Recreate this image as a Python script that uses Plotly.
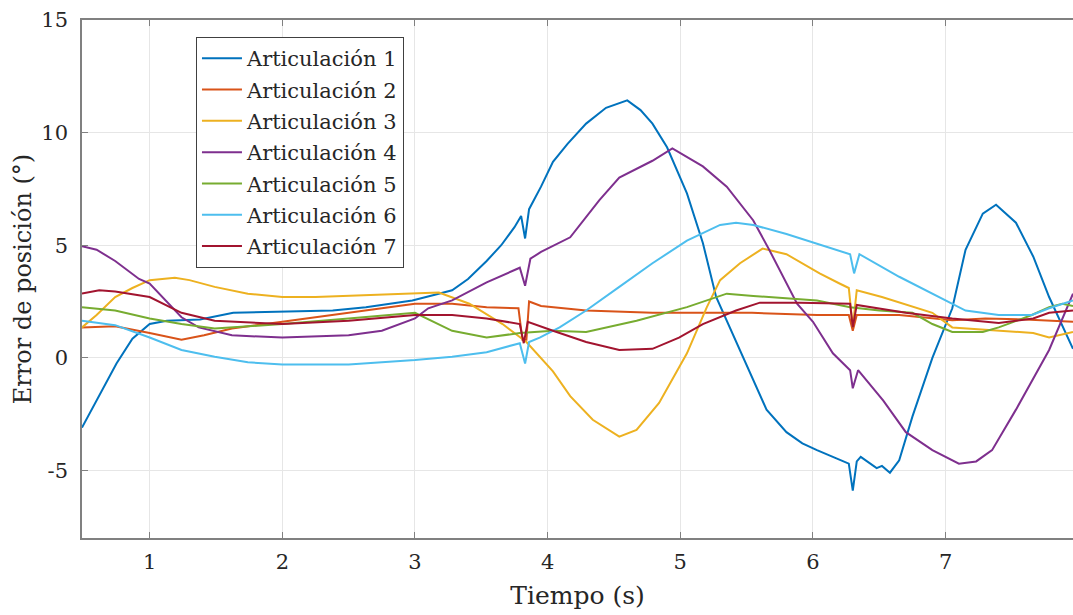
import plotly.graph_objects as go

names = ["Articulación 1", "Articulación 2", "Articulación 3", "Articulación 4",
         "Articulación 5", "Articulación 6", "Articulación 7"]
colors = ["#0072BD", "#D95319", "#EDB120", "#7E2F8E", "#77AC30", "#4DBEEE", "#A2142F"]

t1 = [0.49, 0.62, 0.75, 0.87, 1.0, 1.13, 1.38, 1.63, 2.0, 2.38, 2.63, 2.98, 3.15, 3.28, 3.4, 3.54, 3.65, 3.75, 3.8, 3.83, 3.86, 3.95, 4.04, 4.15, 4.29, 4.44, 4.6, 4.7, 4.79, 4.9, 5.05, 5.17, 5.27, 5.45, 5.65, 5.8, 5.92, 6.03, 6.2, 6.27, 6.3, 6.33, 6.36, 6.48, 6.52, 6.58, 6.65, 6.75, 6.9, 7.05, 7.15, 7.28, 7.38, 7.53, 7.66, 7.78, 7.96]
y1 = [-3.1, -1.65, -0.25, 0.85, 1.5, 1.65, 1.7, 2.0, 2.05, 2.1, 2.25, 2.55, 2.8, 3.0, 3.5, 4.3, 5.0, 5.8, 6.3, 5.3, 6.6, 7.6, 8.7, 9.5, 10.4, 11.1, 11.43, 11.0, 10.4, 9.35, 7.3, 5.1, 2.7, 0.35, -2.3, -3.3, -3.8, -4.1, -4.5, -4.7, -5.9, -4.6, -4.4, -4.9, -4.8, -5.1, -4.55, -2.6, 0.0, 2.2, 4.8, 6.4, 6.8, 6.0, 4.5, 2.7, 0.4]

t2 = [0.49, 0.74, 1.0, 1.24, 1.41, 1.62, 2.0, 2.5, 3.0, 3.28, 3.54, 3.78, 3.81, 3.84, 3.86, 3.95, 4.29, 4.79, 5.2, 5.54, 6.03, 6.27, 6.3, 6.33, 6.65, 7.05, 7.3, 7.6, 7.96]
y2 = [1.35, 1.4, 1.1, 0.8, 1.0, 1.3, 1.6, 2.0, 2.4, 2.4, 2.25, 2.2, 0.8, 0.8, 2.5, 2.3, 2.1, 2.0, 2.0, 2.0, 1.9, 1.9, 1.2, 1.9, 1.9, 1.67, 1.75, 1.7, 1.6]

t3 = [0.49, 0.6, 0.74, 0.87, 1.0, 1.19, 1.3, 1.49, 1.74, 2.0, 2.25, 2.5, 2.75, 3.0, 3.18, 3.41, 3.66, 3.84, 4.04, 4.17, 4.34, 4.54, 4.67, 4.84, 5.05, 5.2, 5.3, 5.45, 5.62, 5.8, 6.05, 6.2, 6.27, 6.3, 6.33, 6.52, 6.9, 7.05, 7.4, 7.66, 7.78, 7.96]
y3 = [1.35, 1.9, 2.7, 3.1, 3.45, 3.55, 3.45, 3.15, 2.85, 2.7, 2.7, 2.75, 2.8, 2.85, 2.9, 2.4, 1.5, 0.7, -0.6, -1.7, -2.75, -3.5, -3.2, -2.0, 0.2, 2.25, 3.45, 4.2, 4.85, 4.6, 3.75, 3.3, 3.1, 1.35, 3.0, 2.7, 2.0, 1.35, 1.2, 1.1, 0.9, 1.15]

t4 = [0.49, 0.6, 0.74, 0.92, 1.0, 1.24, 1.37, 1.62, 2.0, 2.5, 2.75, 3.0, 3.1, 3.28, 3.54, 3.79, 3.83, 3.87, 3.95, 4.17, 4.39, 4.54, 4.79, 4.94, 5.17, 5.35, 5.55, 5.67, 5.88, 6.0, 6.15, 6.28, 6.3, 6.34, 6.53, 6.7, 6.9, 7.1, 7.23, 7.35, 7.53, 7.78, 7.96]
y4 = [4.95, 4.8, 4.3, 3.5, 3.3, 1.8, 1.35, 1.0, 0.9, 1.0, 1.2, 1.75, 2.2, 2.55, 3.35, 4.0, 3.2, 4.4, 4.7, 5.35, 7.0, 8.0, 8.75, 9.3, 8.5, 7.6, 6.1, 4.8, 2.4, 1.6, 0.2, -0.55, -1.35, -0.55, -1.9, -3.3, -4.1, -4.7, -4.6, -4.1, -2.3, 0.35, 2.85]

t5 = [0.49, 0.74, 1.0, 1.24, 1.49, 2.0, 2.5, 3.0, 3.28, 3.54, 3.79, 4.04, 4.29, 4.67, 5.05, 5.35, 5.55, 6.03, 6.28, 6.5, 6.75, 6.9, 7.05, 7.28, 7.4, 7.65, 7.78, 7.88, 7.96]
y5 = [2.25, 2.1, 1.75, 1.5, 1.3, 1.5, 1.75, 2.0, 1.2, 0.9, 1.1, 1.2, 1.15, 1.65, 2.25, 2.85, 2.75, 2.55, 2.25, 2.1, 2.0, 1.5, 1.15, 1.15, 1.35, 1.9, 2.25, 2.4, 2.3]

t6 = [0.49, 0.74, 1.0, 1.24, 1.49, 1.74, 2.0, 2.5, 2.75, 3.0, 3.28, 3.54, 3.79, 3.83, 3.86, 3.94, 4.09, 4.29, 4.54, 4.79, 5.05, 5.3, 5.42, 5.55, 5.8, 6.2, 6.28, 6.31, 6.35, 6.65, 6.9, 7.15, 7.4, 7.65, 7.78, 7.96]
y6 = [1.65, 1.45, 0.9, 0.35, 0.05, -0.2, -0.3, -0.3, -0.2, -0.1, 0.05, 0.25, 0.65, -0.25, 0.7, 0.9, 1.35, 2.1, 3.15, 4.2, 5.2, 5.9, 6.0, 5.9, 5.5, 4.75, 4.6, 3.75, 4.6, 3.6, 2.85, 2.1, 1.9, 1.9, 2.2, 2.55]

t7 = [0.49, 0.62, 0.74, 1.0, 1.24, 1.49, 2.0, 2.5, 3.0, 3.28, 3.54, 3.79, 3.82, 3.85, 4.04, 4.29, 4.54, 4.79, 4.99, 5.17, 5.42, 5.6, 5.9, 6.15, 6.28, 6.3, 6.33, 6.7, 7.05, 7.4, 7.66, 7.78, 7.96]
y7 = [2.85, 3.0, 2.95, 2.7, 2.0, 1.65, 1.5, 1.65, 1.9, 1.9, 1.75, 1.5, 0.65, 1.6, 1.2, 0.7, 0.35, 0.4, 0.9, 1.5, 2.1, 2.45, 2.45, 2.4, 2.4, 1.35, 2.35, 2.0, 1.75, 1.55, 1.75, 2.0, 2.1]

times = [t1, t2, t3, t4, t5, t6, t7]
values = [y1, y2, y3, y4, y5, y6, y7]

x_ticks = [1, 2, 3, 4, 5, 6, 7]
y_ticks = [-5, 0, 5, 10, 15]
y_tick_text = ["-5", "0", "5", "10", "15"]

FONT = "DejaVu Serif"
TXT = "#262626"
AX = "#808080"

fig = go.Figure()
for n, c, t, v in zip(names, colors, times, values):
    fig.add_trace(go.Scatter(x=t, y=v, mode="lines", name=n, legendgroup=n,
                             line=dict(color=c, width=2)))

fig.update_layout(
    width=1073, height=615,
    margin=dict(l=82, r=0, t=20, b=77),
    paper_bgcolor="white", plot_bgcolor="white",
    font=dict(family=FONT, color=TXT, size=21),
    showlegend=True,
    legend=dict(x=0.115, y=0.967, xanchor="left", yanchor="top",
                bgcolor="white", bordercolor="#404040", borderwidth=1,
                font=dict(family=FONT, size=21, color=TXT),
                traceorder="grouped", tracegroupgap=1,
                itemwidth=40),
    xaxis=dict(range=[0.49, 7.96], tickvals=x_ticks,
               showgrid=True, gridcolor="#E6E6E6", gridwidth=1,
               showline=True, linecolor=AX, linewidth=1.5, mirror="ticks",
               ticks="inside", ticklen=6, tickcolor=AX,
               zeroline=False, ticklabelstandoff=4,
               tickfont=dict(size=21, family=FONT, color=TXT),
               title=dict(text="Tiempo (s)", font=dict(size=25, family=FONT, color=TXT), standoff=14)),
    yaxis=dict(range=[-8, 15], tickvals=y_ticks, ticktext=y_tick_text,
               showgrid=True, gridcolor="#E6E6E6", gridwidth=1,
               showline=True, linecolor=AX, linewidth=1.5, mirror=False,
               ticks="inside", ticklen=6, tickcolor=AX,
               zeroline=False, ticklabelstandoff=8,
               tickfont=dict(size=21, family=FONT, color=TXT),
               title=dict(text="Error de posición (°)", font=dict(size=24, family=FONT, color=TXT), standoff=3)),
)

fig.write_html("out.html")
